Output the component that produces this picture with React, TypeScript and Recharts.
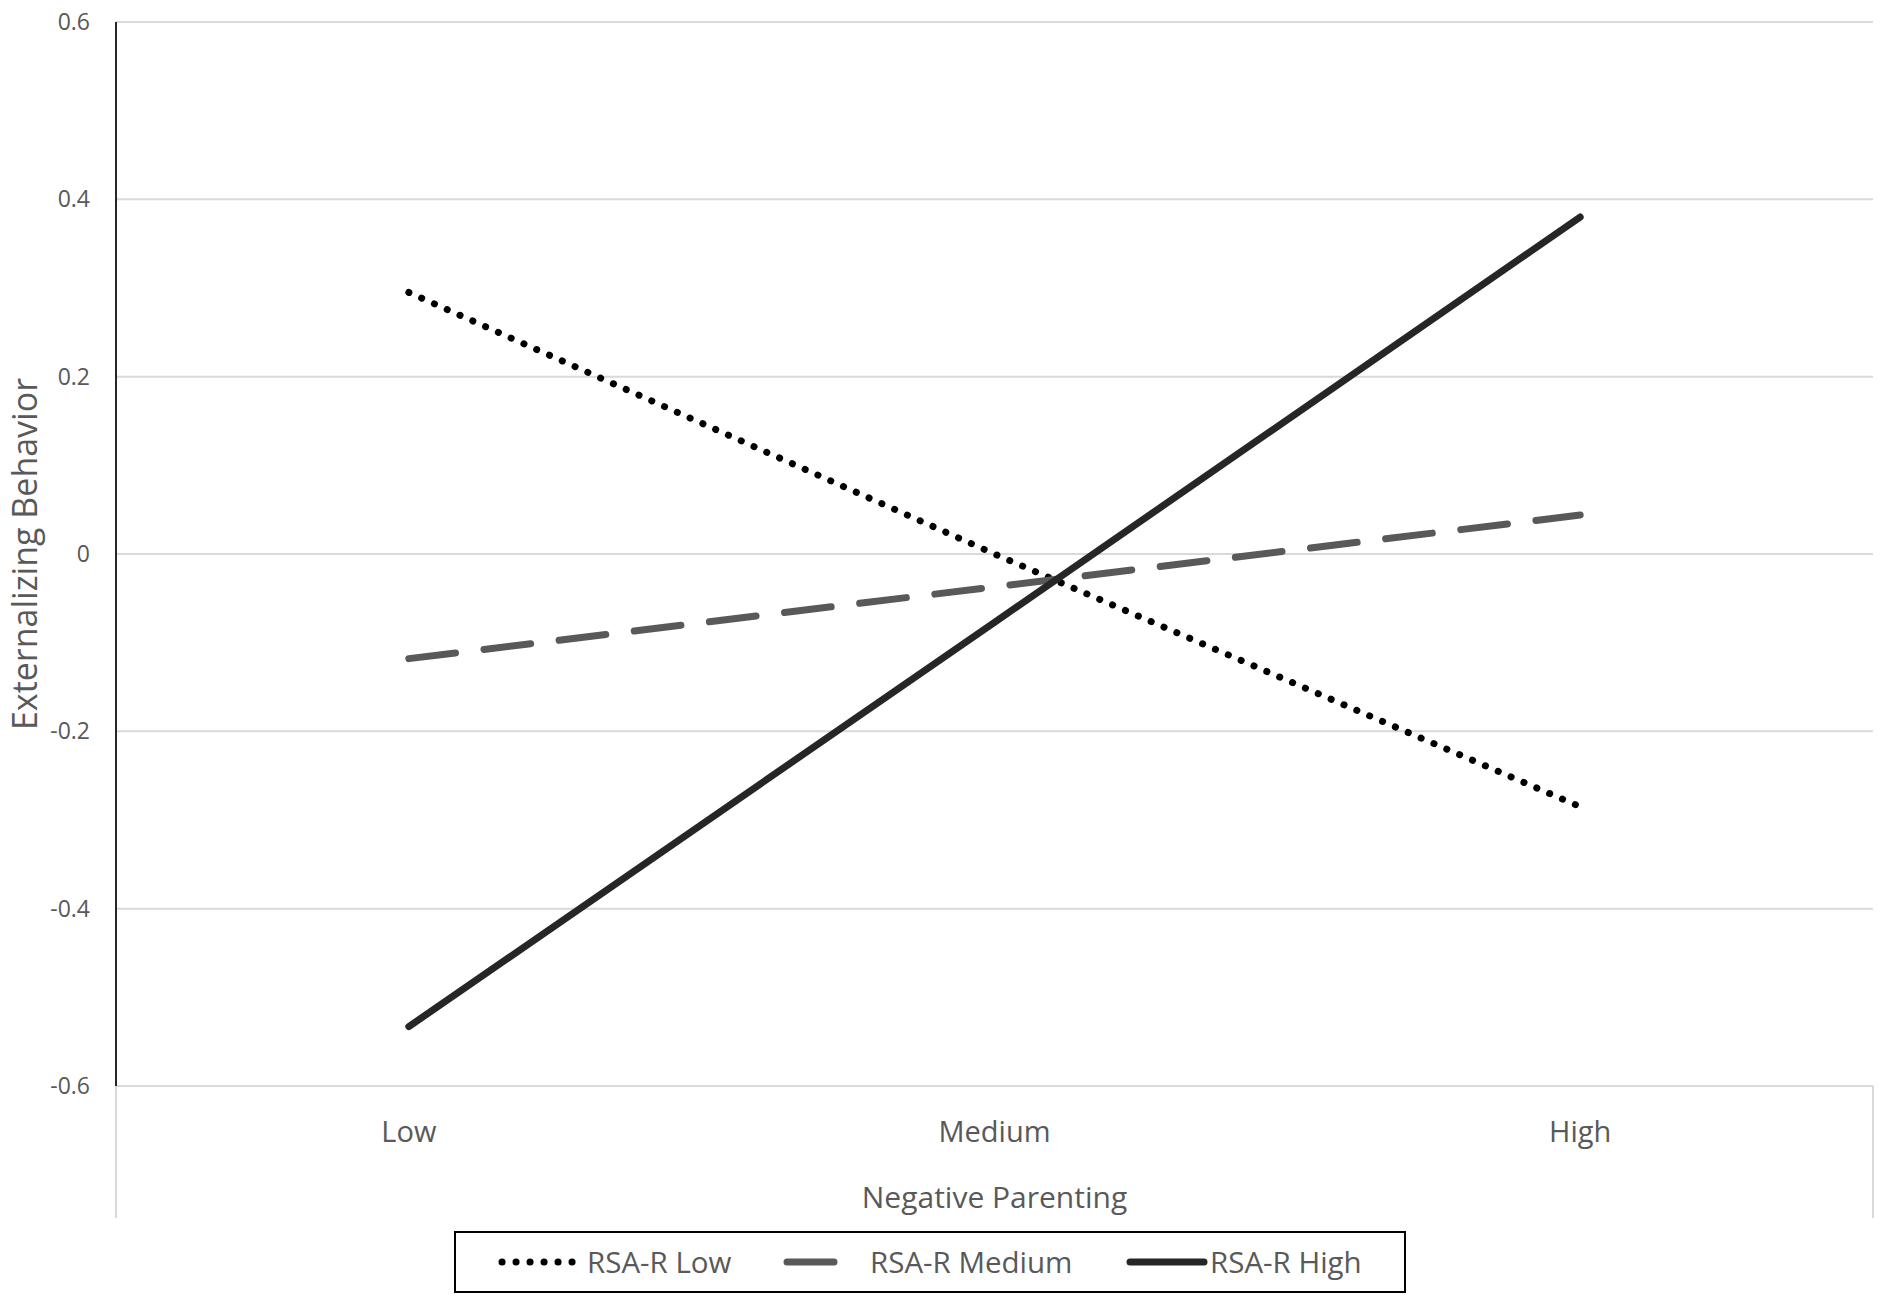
import { LineChart, Line, XAxis, YAxis, CartesianGrid } from "recharts"

// values
const categories = ["Low", "Medium", "High"]
const rsaLow = [0.295, 0.0, -0.285]
const rsaMedium = [-0.118, -0.037, 0.044]
const rsaHigh = [-0.533, -0.077, 0.38]
const yTicks = [-0.6, -0.4, -0.2, 0, 0.2, 0.4, 0.6]

const data = categories.map((name, i) => ({
  name,
  low: rsaLow[i],
  medium: rsaMedium[i],
  high: rsaHigh[i],
}))

const W = 1884
const H = 1303
const FONT = "'Open Sans', sans-serif"
const TEXT = "#595959"
const GRID = "#d9d9d9"

const margin = { top: 22, right: 11, left: 0, bottom: 85 }
const yAxisWidth = 116
const xAxisHeight = 132
const plotLeft = margin.left + yAxisWidth
const plotRight = W - margin.right
const plotBottom = H - margin.bottom - xAxisHeight
const band = (plotRight - plotLeft) / categories.length

const series = [
  { key: "low", name: "RSA-R Low", color: "#000000", width: 7, dash: "0.1 13.9" },
  { key: "medium", name: "RSA-R Medium", color: "#595959", width: 7, dash: "47 28.7" },
  { key: "high", name: "RSA-R High", color: "#262626", width: 7, dash: undefined },
]

function XTitle(props: any) {
  const vb = props.viewBox
  return (
    <text
      x={vb.x + vb.width / 2}
      y={vb.y + vb.height - 10}
      textAnchor="middle"
      fontFamily={FONT}
      fontSize={30}
      fill={TEXT}
    >
      Negative Parenting
    </text>
  )
}

function YTitle(props: any) {
  const vb = props.viewBox
  const cy = vb.y + vb.height / 2
  const bx = 37
  return (
    <text
      x={bx}
      y={cy}
      transform={`rotate(-90 ${bx} ${cy})`}
      textAnchor="middle"
      fontFamily={FONT}
      fontSize={34}
      fill={TEXT}
    >
      Externalizing Behavior
    </text>
  )
}

// legend box laid out like the Excel one
const legendItems = [
  { s: series[0], x1: 48, x2: 124, tx: 133 },
  { s: series[1], x1: 333, x2: 380, tx: 416 },
  { s: series[2], x1: 676, x2: 750, tx: 756 },
]

function LegendBox() {
  return (
    <svg
      width={952}
      height={62}
      style={{ position: "absolute", left: 454, top: 1231 }}
    >
      <rect x={1} y={1} width={950} height={60} fill="#fff" stroke="#000" strokeWidth={2} />
      {legendItems.map(({ s, x1, x2, tx }) => (
        <g key={s.key}>
          <line
            x1={x1}
            y1={31}
            x2={x2}
            y2={31}
            stroke={s.color}
            strokeWidth={s.width}
            strokeLinecap="round"
            strokeDasharray={s.key === "medium" ? undefined : s.dash}
          />
          <text x={tx} y={42} fontFamily={FONT} fontSize={29.5} fill={TEXT}>
            {s.name}
          </text>
        </g>
      ))}
    </svg>
  )
}

export default function App() {
  return (
    <div style={{ position: "absolute", left: 0, top: 0, width: W, height: H, background: "#fff" }}>
      <LineChart width={W} height={H} data={data} margin={margin}>
        <CartesianGrid vertical={false} stroke={GRID} strokeWidth={2} />
        <XAxis
          dataKey="name"
          height={xAxisHeight}
          padding={{ left: band / 2, right: band / 2 }}
          axisLine={false}
          tickLine={false}
          tickSize={0}
          tickMargin={35}
          tick={{ fontSize: 29, fill: TEXT, fontFamily: FONT }}
          label={<XTitle />}
        />
        <YAxis
          width={yAxisWidth}
          domain={[-0.6, 0.6]}
          ticks={yTicks}
          allowDataOverflow
          axisLine={{ stroke: "#262626", strokeWidth: 2 }}
          tickLine={false}
          tickSize={0}
          tickMargin={26}
          tick={{ fontSize: 23, fill: TEXT, fontFamily: FONT }}
          label={<YTitle />}
        />
        {series.map((s) => (
          <Line
            key={s.key}
            type="linear"
            dataKey={s.key}
            name={s.name}
            stroke={s.color}
            strokeWidth={s.width}
            strokeDasharray={s.dash}
            strokeLinecap="round"
            dot={false}
            activeDot={false}
            isAnimationActive={false}
          />
        ))}
      </LineChart>
      {/* grey edge lines under the category axis */}
      <div style={{ position: "absolute", left: plotLeft - 1, top: plotBottom, width: 2, height: xAxisHeight, background: GRID }} />
      <div style={{ position: "absolute", left: plotRight - 1, top: plotBottom, width: 2, height: xAxisHeight, background: GRID }} />
      <LegendBox />
    </div>
  )
}
